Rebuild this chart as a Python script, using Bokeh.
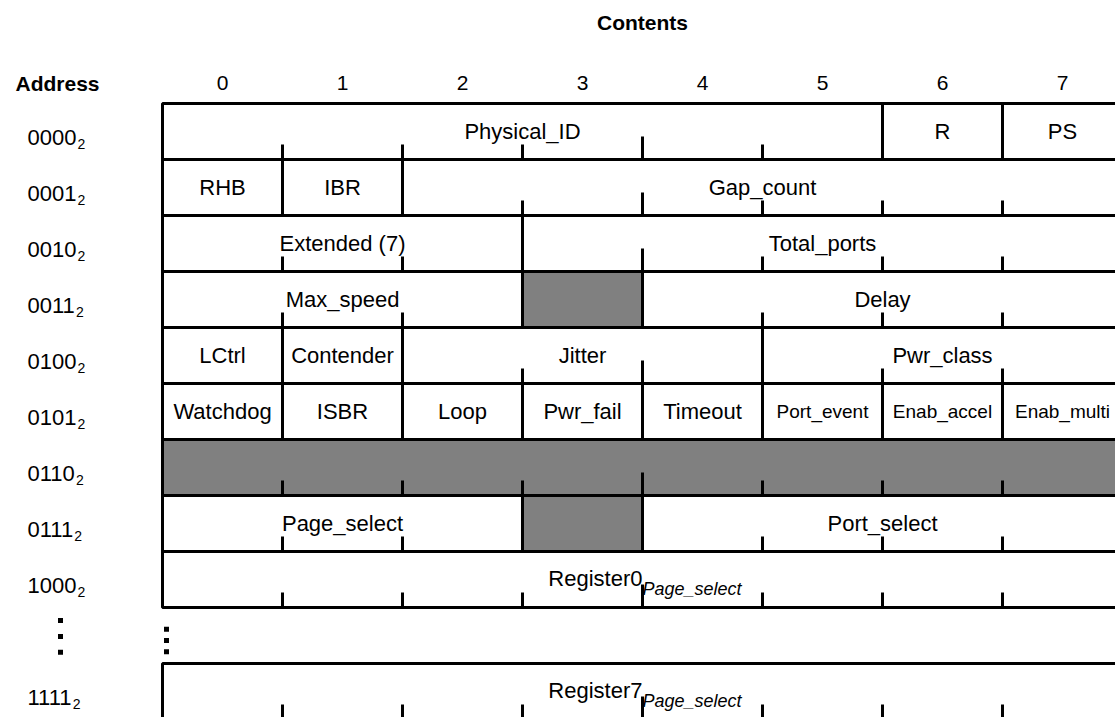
from bokeh.plotting import figure
from bokeh.models import Range1d, ColumnDataSource
from bokeh.core.properties import value
from bokeh.embed import file_html
from bokeh.resources import INLINE

# ---------------- data ----------------
column_labels = ["0", "1", "2", "3", "4", "5", "6", "7"]
address_labels = ["0000", "0001", "0010", "0011", "0100", "0101", "0110", "0111", "1000", "1111"]
address_rows = [0, 1, 2, 3, 4, 5, 6, 7, 8, 10]
address_base = "2"

# register fields: row, first bit, end bit (exclusive), label, reserved
field_row = [0, 0, 0,
             1, 1, 1,
             2, 2,
             3, 3, 3,
             4, 4, 4, 4,
             5, 5, 5, 5, 5, 5, 5, 5,
             6,
             7, 7, 7,
             8, 10]
field_start = [0, 6, 7,
               0, 1, 2,
               0, 3,
               0, 3, 4,
               0, 1, 2, 5,
               0, 1, 2, 3, 4, 5, 6, 7,
               0,
               0, 3, 4,
               0, 0]
field_end = [6, 7, 8,
             1, 2, 8,
             3, 8,
             3, 4, 8,
             1, 2, 5, 8,
             1, 2, 3, 4, 5, 6, 7, 8,
             8,
             3, 4, 8,
             8, 8]
field_label = ["Physical_ID", "R", "PS",
               "RHB", "IBR", "Gap_count",
               "Extended (7)", "Total_ports",
               "Max_speed", "", "Delay",
               "LCtrl", "Contender", "Jitter", "Pwr_class",
               "Watchdog", "ISBR", "Loop", "Pwr_fail", "Timeout", "Port_event", "Enab_accel", "Enab_multi",
               "",
               "Page_select", "", "Port_select",
               "", ""]
field_reserved = [False, False, False,
                  False, False, False,
                  False, False,
                  False, True, False,
                  False, False, False, False,
                  False, False, False, False, False, False, False, False,
                  True,
                  False, True, False,
                  False, False]

register_rows = [8, 10]
register_labels = ["Register0", "Register7"]
register_subscripts = ["Page_select", "Page_select"]

gap_row = 9
header_title = "Contents"
address_title = "Address"

# ---------------- layout ----------------
W, H = 1115, 717
PX_COL, PX_ROW = 120.0, 56.0
LEFT_PX, TOP_PX = 162.0, 103.0
x0 = -LEFT_PX / PX_COL
y0 = -TOP_PX / PX_ROW
x1 = x0 + W / PX_COL
y1 = y0 + H / PX_ROW


def px_x(px):
    return (px - LEFT_PX) / PX_COL


def px_y(py):
    return (py - TOP_PX) / PX_ROW


FONT = value("Liberation Sans")
BLACK = "#000000"
GRAY = "#808080"

p = figure(width=W, height=H, x_range=Range1d(x0, x1), y_range=Range1d(y1, y0),
           output_backend="svg", toolbar_location=None,
           x_axis_location=None, y_axis_location=None, min_border=0)
p.grid.visible = False
p.outline_line_color = None
p.background_fill_color = "white"
p.border_fill_color = "white"

# cells
cells = ColumnDataSource(dict(
    left=field_start, right=field_end,
    top=field_row, bottom=[r + 1 for r in field_row],
    fill=[GRAY if g else "white" for g in field_reserved],
))
p.quad(left="left", right="right", top="top", bottom="bottom", source=cells,
       fill_color="fill", line_color=BLACK, line_width=3)

# tick marks at the bottom of each row at bit boundaries inside a field
tx0, ty0, tx1, ty1 = [], [], [], []
for r, s, e in zip(field_row, field_start, field_end):
    for b in range(s + 1, e):
        ln = (23 if b == 4 else 15) / PX_ROW
        tx0.append(b); tx1.append(b)
        ty0.append(r + 1); ty1.append(r + 1 - ln)
p.segment(x0=tx0, y0=ty0, x1=tx1, y1=ty1, line_color=BLACK, line_width=3)

# field labels
lx, ly, lt, lsize = [], [], [], []
for r, s, e, t in zip(field_row, field_start, field_end, field_label):
    if not t:
        continue
    lx.append((s + e) / 2); ly.append(r + 0.5); lt.append(t)
    lsize.append("19px" if (e - s == 1 and len(t) > 9) else "22px")
p.text(x=lx, y=ly, text=lt, text_font=FONT, text_font_size=lsize,
       text_align="center", text_baseline="middle", text_color=BLACK)

# register labels with subscript
rx = [4] * len(register_rows)
ry = [r + 0.5 for r in register_rows]
p.text(x=rx, y=ry, text=register_labels, text_font=FONT, text_font_size="22px",
       text_align="right", text_baseline="middle", text_color=BLACK, y_offset=-1)
p.text(x=rx, y=ry, text=register_subscripts, text_font=FONT, text_font_size="18px",
       text_font_style="italic", text_align="left", text_baseline="middle",
       text_color=BLACK, y_offset=9)

# column headers
p.text(x=[i + 0.5 for i in range(len(column_labels))], y=[px_y(82)] * len(column_labels),
       text=column_labels, text_font=FONT, text_font_size="21px",
       text_align="center", text_baseline="middle", text_color=BLACK)
p.text(x=[4], y=[px_y(22)], text=[header_title], text_font=FONT,
       text_font_size="21px", text_font_style="bold",
       text_align="center", text_baseline="middle", text_color=BLACK)
p.text(x=[px_x(57)], y=[px_y(83)], text=[address_title], text_font=FONT,
       text_font_size="21px", text_font_style="bold",
       text_align="center", text_baseline="middle", text_color=BLACK)

# address labels with base subscript (the font kerns "11" pairs tighter)
ax = [px_x(27)] * len(address_rows)
ay = [r + 0.5 for r in address_rows]
sub_dx = [50 - 1.6 * sum(1 for i in range(len(a) - 1) if a[i:i + 2] == "11")
          for a in address_labels]
p.text(x=ax, y=ay, text=address_labels, text_font=FONT, text_font_size="22px",
       text_align="left", text_baseline="middle", text_color=BLACK, y_offset=6)
p.text(x=ax, y=ay, text=[address_base] * len(address_rows), text_font=FONT,
       text_font_size="14px", text_align="left", text_baseline="middle",
       text_color=BLACK, x_offset=sub_dx, y_offset=12)

# vertical ellipses in the gap row
p.scatter(x=[px_x(60)] * 3, y=[gap_row + f for f in (0.23, 0.52, 0.80)],
          marker="square", size=5, fill_color=BLACK, line_color=None)
p.scatter(x=[px_x(166)] * 3, y=[gap_row + f for f in (0.39, 0.59, 0.79)],
          marker="square", size=5, fill_color=BLACK, line_color=None)

open("out.html", "w").write(file_html(p, INLINE))
